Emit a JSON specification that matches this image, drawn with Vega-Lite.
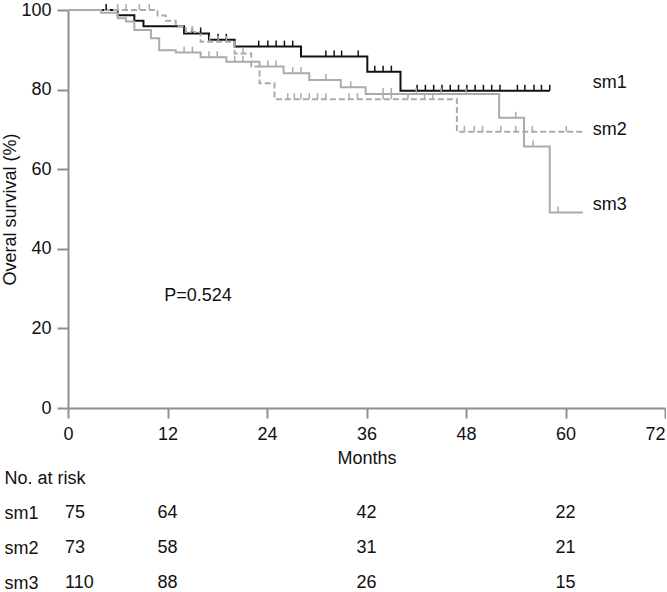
{
  "$schema": "https://vega.github.io/schema/vega-lite/v6.json",
  "padding": {"left": 1, "top": 1, "right": 0, "bottom": 0},
  "spacing": 2,
  "background": "white",
  "config": {
    "view": {"stroke": null},
    "font": "Liberation Sans",
    "axis": {"grid": false, "labelColor": "#111", "titleColor": "#111", "labelFontSize": 18, "titleFontSize": 18, "titleFontWeight": "normal", "domainColor": "#8f8f8f", "tickColor": "#8f8f8f", "domainWidth": 2, "tickWidth": 2}
  },
  "datasets": {
    "curves": [
      {"group": "sm1", "time": 0, "surv": 100}, {"group": "sm1", "time": 6.0, "surv": 98.7}, {"group": "sm1", "time": 8.0, "surv": 97.3}, {"group": "sm1", "time": 9.1, "surv": 95.9}, {"group": "sm1", "time": 14.0, "surv": 94.1}, {"group": "sm1", "time": 17.0, "surv": 92.5}, {"group": "sm1", "time": 20.1, "surv": 90.8}, {"group": "sm1", "time": 28.1, "surv": 88.3}, {"group": "sm1", "time": 36.1, "surv": 84.5}, {"group": "sm1", "time": 40.1, "surv": 79.7}, {"group": "sm1", "time": 58.1, "surv": 79.7},
      {"group": "sm2", "time": 0, "surv": 100}, {"group": "sm2", "time": 10.8, "surv": 98.6}, {"group": "sm2", "time": 11.8, "surv": 97.3}, {"group": "sm2", "time": 13.0, "surv": 95.9}, {"group": "sm2", "time": 14.2, "surv": 94.5}, {"group": "sm2", "time": 16.0, "surv": 92.0}, {"group": "sm2", "time": 20.1, "surv": 89.1}, {"group": "sm2", "time": 22.1, "surv": 85.8}, {"group": "sm2", "time": 23.1, "surv": 81.6}, {"group": "sm2", "time": 24.9, "surv": 77.6}, {"group": "sm2", "time": 46.9, "surv": 69.4}, {"group": "sm2", "time": 62.1, "surv": 69.4},
      {"group": "sm3", "time": 0, "surv": 100}, {"group": "sm3", "time": 4.0, "surv": 99.3}, {"group": "sm3", "time": 6.0, "surv": 97.9}, {"group": "sm3", "time": 7.0, "surv": 97.1}, {"group": "sm3", "time": 8.0, "surv": 95.0}, {"group": "sm3", "time": 10.0, "surv": 92.9}, {"group": "sm3", "time": 11.0, "surv": 89.9}, {"group": "sm3", "time": 13.0, "surv": 89.3}, {"group": "sm3", "time": 16.0, "surv": 88.1}, {"group": "sm3", "time": 19.1, "surv": 87.0}, {"group": "sm3", "time": 23.1, "surv": 85.8}, {"group": "sm3", "time": 26.0, "surv": 84.1}, {"group": "sm3", "time": 29.1, "surv": 82.4}, {"group": "sm3", "time": 32.9, "surv": 80.6}, {"group": "sm3", "time": 35.9, "surv": 78.9}, {"group": "sm3", "time": 52.0, "surv": 72.9}, {"group": "sm3", "time": 55.0, "surv": 65.7}, {"group": "sm3", "time": 58.1, "surv": 49.1}, {"group": "sm3", "time": 62.1, "surv": 49.1}
    ],
    "censors": [
      {"group": "sm1", "time": 4.6, "surv": 100}, {"group": "sm1", "time": 15.0, "surv": 94.1}, {"group": "sm1", "time": 16.0, "surv": 94.1}, {"group": "sm1", "time": 18.1, "surv": 92.5}, {"group": "sm1", "time": 19.1, "surv": 92.5},
      {"group": "sm1", "time": 23.0, "surv": 90.8}, {"group": "sm1", "time": 24.1, "surv": 90.8}, {"group": "sm1", "time": 25.1, "surv": 90.8}, {"group": "sm1", "time": 26.1, "surv": 90.8}, {"group": "sm1", "time": 27.1, "surv": 90.8},
      {"group": "sm1", "time": 31.1, "surv": 88.3}, {"group": "sm1", "time": 32.1, "surv": 88.3}, {"group": "sm1", "time": 33.0, "surv": 88.3}, {"group": "sm1", "time": 35.0, "surv": 88.3},
      {"group": "sm1", "time": 37.0, "surv": 84.5}, {"group": "sm1", "time": 38.0, "surv": 84.5}, {"group": "sm1", "time": 39.0, "surv": 84.5},
      {"group": "sm1", "time": 42.1, "surv": 79.7}, {"group": "sm1", "time": 43.1, "surv": 79.7}, {"group": "sm1", "time": 44.1, "surv": 79.7}, {"group": "sm1", "time": 45.1, "surv": 79.7}, {"group": "sm1", "time": 46.1, "surv": 79.7}, {"group": "sm1", "time": 47.1, "surv": 79.7}, {"group": "sm1", "time": 48.1, "surv": 79.7}, {"group": "sm1", "time": 49.1, "surv": 79.7}, {"group": "sm1", "time": 50.1, "surv": 79.7}, {"group": "sm1", "time": 51.1, "surv": 79.7}, {"group": "sm1", "time": 52.1, "surv": 79.7}, {"group": "sm1", "time": 54.2, "surv": 79.7}, {"group": "sm1", "time": 55.1, "surv": 79.7}, {"group": "sm1", "time": 56.2, "surv": 79.7}, {"group": "sm1", "time": 57.1, "surv": 79.7}, {"group": "sm1", "time": 58.1, "surv": 79.7},
      {"group": "sm2", "time": 6.0, "surv": 100}, {"group": "sm2", "time": 7.0, "surv": 100}, {"group": "sm2", "time": 8.6, "surv": 100}, {"group": "sm2", "time": 9.8, "surv": 100},
      {"group": "sm2", "time": 15.0, "surv": 94.5}, {"group": "sm2", "time": 17.1, "surv": 92.0}, {"group": "sm2", "time": 18.1, "surv": 92.0}, {"group": "sm2", "time": 19.1, "surv": 92.0}, {"group": "sm2", "time": 21.1, "surv": 89.1},
      {"group": "sm2", "time": 26.5, "surv": 77.6}, {"group": "sm2", "time": 27.3, "surv": 77.6}, {"group": "sm2", "time": 28.1, "surv": 77.6}, {"group": "sm2", "time": 29.1, "surv": 77.6}, {"group": "sm2", "time": 30.1, "surv": 77.6}, {"group": "sm2", "time": 31.1, "surv": 77.6}, {"group": "sm2", "time": 33.9, "surv": 77.6}, {"group": "sm2", "time": 34.9, "surv": 77.6}, {"group": "sm2", "time": 38.0, "surv": 77.6}, {"group": "sm2", "time": 39.0, "surv": 77.6}, {"group": "sm2", "time": 41.0, "surv": 77.6}, {"group": "sm2", "time": 43.0, "surv": 77.6}, {"group": "sm2", "time": 44.0, "surv": 77.6},
      {"group": "sm2", "time": 47.8, "surv": 69.4}, {"group": "sm2", "time": 49.0, "surv": 69.4}, {"group": "sm2", "time": 50.0, "surv": 69.4}, {"group": "sm2", "time": 52.2, "surv": 69.4}, {"group": "sm2", "time": 54.0, "surv": 69.4}, {"group": "sm2", "time": 55.0, "surv": 69.4}, {"group": "sm2", "time": 56.0, "surv": 69.4}, {"group": "sm2", "time": 60.1, "surv": 69.4},
      {"group": "sm3", "time": 14.0, "surv": 89.3}, {"group": "sm3", "time": 15.0, "surv": 89.3}, {"group": "sm3", "time": 17.0, "surv": 88.1}, {"group": "sm3", "time": 18.0, "surv": 88.1}, {"group": "sm3", "time": 20.1, "surv": 87.0}, {"group": "sm3", "time": 21.1, "surv": 87.0},
      {"group": "sm3", "time": 24.1, "surv": 85.8}, {"group": "sm3", "time": 25.1, "surv": 85.8}, {"group": "sm3", "time": 27.1, "surv": 84.1}, {"group": "sm3", "time": 28.1, "surv": 84.1}, {"group": "sm3", "time": 31.1, "surv": 82.4}, {"group": "sm3", "time": 34.1, "surv": 80.6},
      {"group": "sm3", "time": 38.0, "surv": 78.9}, {"group": "sm3", "time": 39.0, "surv": 78.9}, {"group": "sm3", "time": 42.0, "surv": 78.9}, {"group": "sm3", "time": 45.0, "surv": 78.9}, {"group": "sm3", "time": 48.0, "surv": 78.9},
      {"group": "sm3", "time": 54.0, "surv": 72.9}, {"group": "sm3", "time": 56.1, "surv": 65.7}, {"group": "sm3", "time": 59.1, "surv": 49.1}
    ],
    "labels": [
      {"group": "sm1", "time": 63.3, "surv": 81.7},
      {"group": "sm2", "time": 63.3, "surv": 69.8},
      {"group": "sm3", "time": 63.3, "surv": 51.0}
    ],
    "annot": [{"text": "P=0.524", "time": 11.6, "surv": 28.1}],
    "risk": [
      {"group": "sm1", "time": 0, "n": 75}, {"group": "sm1", "time": 12, "n": 64}, {"group": "sm1", "time": 36, "n": 42}, {"group": "sm1", "time": 60, "n": 22},
      {"group": "sm2", "time": 0, "n": 73}, {"group": "sm2", "time": 12, "n": 58}, {"group": "sm2", "time": 36, "n": 31}, {"group": "sm2", "time": 60, "n": 21},
      {"group": "sm3", "time": 0, "n": 110}, {"group": "sm3", "time": 12, "n": 88}, {"group": "sm3", "time": 36, "n": 26}, {"group": "sm3", "time": 60, "n": 15}
    ]
  },
  "vconcat": [
    {
      "width": 597,
      "height": 398,
      "encoding": {
        "x": {"field": "time", "type": "quantitative", "scale": {"domain": [0, 72], "nice": false, "zero": false},
              "axis": {"values": [0, 12, 24, 36, 48, 60, 72], "title": "Months", "tickSize": 10, "labelPadding": 7, "titlePadding": 6, "labelFlush": false,
                       "labelAlign": {"condition": {"test": "datum.value == 72", "value": "right"}, "value": "center"}}},
        "y": {"field": "surv", "type": "quantitative", "scale": {"domain": [0, 100], "nice": false},
              "axis": {"values": [0, 20, 40, 60, 80, 100], "title": "Overal survival (%)", "tickSize": 11, "labelPadding": 6, "titlePadding": 1, "labelFlush": false}}
      },
      "layer": [
        {
          "data": {"name": "curves"},
          "mark": {"type": "line", "interpolate": "step-after", "strokeWidth": 2},
          "encoding": {
            "color": {"field": "group", "type": "nominal", "scale": {"domain": ["sm1", "sm2", "sm3"], "range": ["#111111", "#ababab", "#ababab"]}, "legend": null},
            "strokeDash": {"field": "group", "type": "nominal", "scale": {"domain": ["sm1", "sm2", "sm3"], "range": [[1, 0], [6, 3], [1, 0]]}, "legend": null}
          }
        },
        {
          "data": {"name": "censors"},
          "mark": {"type": "tick", "orient": "vertical", "size": 6, "thickness": 1.5, "yOffset": -3, "opacity": 1},
          "encoding": {
            "color": {"field": "group", "type": "nominal", "scale": {"domain": ["sm1", "sm2", "sm3"], "range": ["#111111", "#ababab", "#ababab"]}, "legend": null}
          }
        },
        {
          "data": {"name": "labels"},
          "mark": {"type": "text", "align": "left", "baseline": "middle", "fontSize": 18, "color": "#111"},
          "encoding": {"text": {"field": "group"}}
        },
        {
          "data": {"name": "annot"},
          "mark": {"type": "text", "align": "left", "baseline": "middle", "fontSize": 18, "color": "#111"},
          "encoding": {"text": {"field": "text"}}
        }
      ]
    },
    {
      "width": 597,
      "height": 105,
      "data": {"name": "risk"},
      "encoding": {
        "x": {"field": "time", "type": "quantitative", "scale": {"domain": [0, 72], "nice": false, "zero": false}, "axis": null},
        "y": {"field": "group", "type": "ordinal", "scale": {"type": "point", "domain": ["No. at risk", "sm1", "sm2", "sm3"], "padding": 0},
              "axis": {"title": null, "domain": false, "ticks": false, "labelAlign": "left", "labelPadding": 64, "labelFontSize": 18, "labelColor": "#111"}},
        "text": {"field": "n"}
      },
      "layer": [
        {
          "transform": [{"filter": "datum.time == 0"}],
          "mark": {"type": "text", "align": "left", "baseline": "middle", "fontSize": 18, "dx": -3, "color": "#111"}
        },
        {
          "transform": [{"filter": "datum.time > 0"}],
          "mark": {"type": "text", "align": "center", "baseline": "middle", "fontSize": 18, "color": "#111"}
        }
      ]
    }
  ]
}
